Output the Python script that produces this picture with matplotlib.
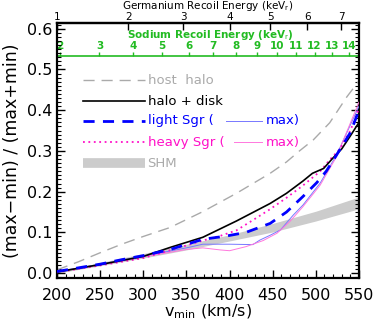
import numpy as np
import matplotlib
matplotlib.use("Agg")
import matplotlib.pyplot as plt
from matplotlib.ticker import MultipleLocator, FixedLocator, NullLocator

# ---------------- data ----------------
v_black = [200, 225, 250, 275, 300, 331, 369, 408, 447, 466, 485, 496, 509, 520, 530, 540, 550]
y_black = [0.003, 0.012, 0.021, 0.031, 0.041, 0.063, 0.088, 0.128, 0.171, 0.196, 0.226, 0.245, 0.257, 0.283, 0.305, 0.337, 0.370]

v_host = [200, 225, 250, 275, 300, 331, 369, 408, 447, 466, 481, 497, 516, 536, 550]
y_host = [0.008, 0.028, 0.050, 0.071, 0.090, 0.112, 0.151, 0.196, 0.245, 0.273, 0.300, 0.327, 0.369, 0.433, 0.472]

v_light = [200, 225, 250, 275, 300, 331, 369, 396, 419, 447, 466, 485, 501, 512, 524, 540, 550]
y_light = [0.004, 0.013, 0.022, 0.033, 0.043, 0.058, 0.083, 0.091, 0.100, 0.122, 0.150, 0.188, 0.222, 0.250, 0.290, 0.345, 0.400]

v_light_max = [200, 250, 300, 350, 369, 400, 427, 435, 447, 459, 474, 485, 505, 524, 550]
y_light_max = [0.004, 0.022, 0.042, 0.062, 0.071, 0.071, 0.070, 0.081, 0.093, 0.106, 0.143, 0.167, 0.221, 0.290, 0.410]

v_heavy = [200, 250, 300, 331, 369, 390, 408, 427, 447, 466, 485, 505, 516, 528, 540, 550]
y_heavy = [0.002, 0.019, 0.037, 0.056, 0.080, 0.092, 0.105, 0.130, 0.157, 0.185, 0.215, 0.250, 0.278, 0.305, 0.350, 0.405]

v_heavy_max = [200, 250, 300, 350, 369, 389, 400, 419, 439, 455, 470, 485, 505, 524, 550]
y_heavy_max = [0.003, 0.020, 0.040, 0.058, 0.062, 0.057, 0.055, 0.065, 0.080, 0.098, 0.127, 0.163, 0.216, 0.286, 0.420]

v_shm = [200, 250, 300, 350, 400, 450, 500, 550]
shm_low = [0.000, 0.018, 0.037, 0.057, 0.079, 0.101, 0.128, 0.158]
shm_high = [0.003, 0.026, 0.048, 0.071, 0.094, 0.122, 0.152, 0.187]

ge_ticks = [1, 2, 3, 4, 5, 6, 7]
na_ticks = [2, 3, 4, 5, 6, 7, 8, 9, 10, 11, 12, 13, 14]
y_ticks = [0.0, 0.1, 0.2, 0.3, 0.4, 0.5, 0.6]
x_ticks = [200, 250, 300, 350, 400, 450, 500, 550]

GE_COEF = 1.0 / 200.0**2      # E_Ge = coef * v^2 (keV)
NA_COEF = 4.83e-5             # E_Na = coef * v^2 (keV)

# ---------------- figure ----------------
plt.rcParams['font.family'] = ['DejaVu Sans']
fig = plt.figure(figsize=(3.74, 3.26), dpi=100)
ax = fig.add_axes([0.1524, 0.1472, 0.8075, 0.7822])

green = '#22bb22'
blue = '#0000ff'
pink = '#ff10c8'
lblue = '#7777ff'
lpink = '#ff77dd'
gray = '#aaaaaa'

ax.fill_between(v_shm, shm_low, shm_high, color='#cccccc', lw=0, zorder=1)
ax.plot(v_host, y_host, color=gray, lw=1.0, dashes=(8, 5), zorder=2)
ax.plot(v_light_max, y_light_max, color=lblue, lw=0.7, zorder=3)
ax.plot(v_heavy_max, y_heavy_max, color=lpink, lw=0.7, zorder=3)
ax.plot(v_heavy, y_heavy, color=pink, lw=1.3, ls=(0, (1, 2)), zorder=4)
ax.plot(v_black, y_black, color='black', lw=1.2, zorder=4)
ax.plot(v_light, y_light, color=blue, lw=2.0, dashes=(4, 3), zorder=5)

ax.set_xlim(200, 550)
ax.set_ylim(-0.012, 0.614)
ax.xaxis.set_major_locator(FixedLocator(x_ticks))
ax.xaxis.set_minor_locator(MultipleLocator(10))
ax.yaxis.set_major_locator(FixedLocator(y_ticks))
ax.yaxis.set_minor_locator(MultipleLocator(0.01))
ax.set_yticklabels(['%.1f' % t for t in y_ticks])
ax.tick_params(axis='both', which='both', direction='in', labelsize=11.5)
ax.tick_params(axis='x', which='both', bottom=True, top=False)
ax.tick_params(axis='y', which='both', left=True, right=True)
ax.tick_params(which='major', length=6, width=1.0)
ax.tick_params(which='minor', length=3, width=0.8)
ax.tick_params(axis='x', pad=7)
for s in ax.spines.values():
    s.set_linewidth(1.6)

ax.set_xlabel(r'v$_{\rm min}$ (km/s)', fontsize=11.5, labelpad=0)
ax.set_ylabel('(max\u2212min) / (max+min)', fontsize=12.5, labelpad=4)

# Germanium top axis
ge = ax.secondary_xaxis('top', functions=(lambda v: GE_COEF * np.asarray(v)**2,
                                          lambda e: np.sqrt(np.abs(np.asarray(e)) / GE_COEF)))
ge.xaxis.set_major_locator(FixedLocator(ge_ticks))
ge.xaxis.set_minor_locator(NullLocator())
ge.tick_params(direction='in', length=5, width=1.0, labelsize=7.5, pad=1)
ge.spines['top'].set_linewidth(1.6)
ax.text(0.5, 1.067, r'Germanium Recoil Energy (keV$_{\rm r}$)', transform=ax.transAxes,
        fontsize=7.5, ha='center', va='center')

# Sodium axis (green, inside the plot)
na_pos = (0.533 + 0.012) / 0.626
na = ax.secondary_xaxis(na_pos, functions=(lambda v: NA_COEF * np.asarray(v)**2,
                                           lambda e: np.sqrt(np.abs(np.asarray(e)) / NA_COEF)))
na.xaxis.set_major_locator(FixedLocator(na_ticks))
na.xaxis.set_minor_locator(NullLocator())
na.tick_params(direction='out', length=3, width=1.0, colors=green, labelsize=7.5, pad=0.5)
for lab in na.get_xticklabels():
    lab.set_fontweight('bold')
na.spines['top'].set_color(green)
na.spines['top'].set_linewidth(1.2)
ax.text(0.507, 0.953, r'Sodium Recoil Energy (keV$_{\rm r}$)', transform=ax.transAxes,
        fontsize=7.5, color=green, fontweight='bold', ha='center', va='center')

# ---------------- legend (manual) ----------------
tr = ax.transAxes
x0, x1, xt = 0.086, 0.291, 0.300
rows = [0.776, 0.694, 0.616, 0.533, 0.451]
fs = 9.5
ax.plot([x0, x1], [rows[0]] * 2, transform=tr, color=gray, lw=1.0, dashes=(8, 5))
ax.text(xt, rows[0], 'host  halo', transform=tr, color=gray, fontsize=fs, va='center')
ax.plot([x0, x1], [rows[1]] * 2, transform=tr, color='black', lw=1.2)
ax.text(xt, rows[1], 'halo + disk', transform=tr, color='black', fontsize=fs, va='center')
ax.plot([x0, x1], [rows[2]] * 2, transform=tr, color=blue, lw=2.0, dashes=(4, 3))
ax.text(xt, rows[2], 'light Sgr (', transform=tr, color=blue, fontsize=fs, va='center')
ax.plot([0.56, 0.68], [rows[2]] * 2, transform=tr, color=lblue, lw=0.7)
ax.text(0.69, rows[2], 'max)', transform=tr, color=blue, fontsize=fs, va='center')
ax.plot([x0, x1], [rows[3]] * 2, transform=tr, color=pink, lw=1.3, ls=(0, (1, 2)))
ax.text(xt, rows[3], 'heavy Sgr (', transform=tr, color=pink, fontsize=fs, va='center')
ax.plot([0.585, 0.68], [rows[3]] * 2, transform=tr, color=lpink, lw=0.7)
ax.text(0.69, rows[3], 'max)', transform=tr, color=pink, fontsize=fs, va='center')
ax.plot([x0, x1], [rows[4]] * 2, transform=tr, color='#cccccc', lw=7, solid_capstyle='butt')
ax.text(xt, rows[4], 'SHM', transform=tr, color=gray, fontsize=fs, va='center')

fig.savefig('out.png', dpi=100)
